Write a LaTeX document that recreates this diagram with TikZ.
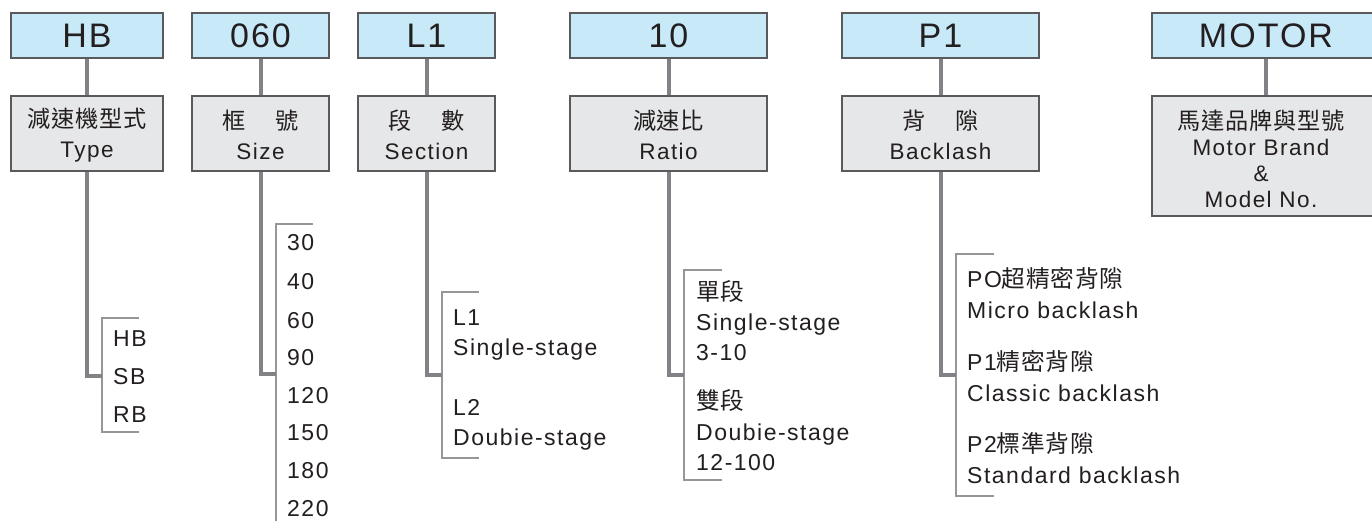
\documentclass[tikz,border=0pt]{standalone}
\usepackage{fontspec}
\setmainfont{Liberation Sans}
\newfontfamily\topf[LetterSpace=6]{Liberation Sans}
\newfontfamily\labf[LetterSpace=6.5]{Liberation Sans}
\newfontfamily\cjk[Scale=1.03,LetterSpace=3]{Noto Sans CJK TC}
\newcommand{\zh}[1]{{\cjk #1}}
\definecolor{topfill}{RGB}{200,234,248}
\definecolor{lowfill}{RGB}{230,231,232}
\definecolor{boxline}{RGB}{90,90,92}
\definecolor{stemc}{RGB}{128,130,133}
\definecolor{brkc}{RGB}{150,150,152}
\definecolor{ink}{RGB}{35,31,32}
\begin{document}
\begin{tikzpicture}[x=1pt,y=-1pt,
  topbox/.style={draw=boxline, line width=1.2pt, fill=topfill, minimum height=45pt, inner sep=0pt, font=\topf\fontsize{34}{34}\selectfont, text=ink},
  lowbox/.style={draw=boxline, line width=1.2pt, fill=lowfill, minimum height=75pt, inner sep=0pt},
  boxtext/.style={inner sep=0pt, align=center, font=\labf\fontsize{22.5}{30}\selectfont, text=ink},
  stem/.style={draw=stemc, line width=4pt},
  brk/.style={draw=brkc, line width=1.8pt},
  lab/.style={anchor=base west, inner sep=0pt, font=\labf\fontsize{23}{23}\selectfont, text=ink}]
\clip (0,0) rectangle (1372,521);
\fill[white] (0,0) rectangle (1372,521);
% top boxes
\node[topbox, minimum width=152pt] (t1) at (87,35.5) {HB};
\node[topbox, minimum width=137pt] (t2) at (260.5,35.5) {060};
\node[topbox, minimum width=137pt] (t3) at (426.5,35.5) {L1};
\node[topbox, minimum width=197pt] (t4) at (668.5,35.5) {10};
\node[topbox, minimum width=197pt] (t5) at (940.5,35.5) {P1};
\node[topbox, minimum width=228pt] (t6) at (1266,35.5) {MOTOR};
% lower boxes
\node[lowbox, minimum width=152pt] (b1) at (87,133.5) {};
\node[lowbox, minimum width=137pt] (b2) at (260.5,133.5) {};
\node[lowbox, minimum width=137pt] (b3) at (426.5,133.5) {};
\node[lowbox, minimum width=197pt] (b4) at (668.5,133.5) {};
\node[lowbox, minimum width=197pt] (b5) at (940.5,133.5) {};
\node[lowbox, minimum width=228pt, minimum height=120pt] (b6) at (1266,156) {};
\node[boxtext] (b1t) at (87,135) {\zh{減速機型式}\\Type};
\node[boxtext] (b2t) at (260.5,135) {\zh{框\hspace{1.3em}號}\\Size};
\node[boxtext] (b3t) at (426.5,135) {\zh{段\hspace{1.3em}數}\\Section};
\node[boxtext] (b4t) at (668.5,135) {\zh{減速比}\\Ratio};
\node[boxtext] (b5t) at (940.5,135) {\zh{背\hspace{1.3em}隙}\\Backlash};
\node[boxtext, font=\labf\fontsize{22.5}{26}\selectfont] (b6t) at (1261,159) {\zh{馬達品牌與型號}\\Motor Brand\\\&\\Model No.};
% stems top to lower
\foreach \i in {1,...,6} \draw[stem] (t\i.south) -- (b\i.north);
% bracket coordinates
\coordinate (k1) at (102,376); \coordinate (k1a) at (139,318); \coordinate (k1b) at (139,432);
\coordinate (k2) at (276,374); \coordinate (k2a) at (313,224); \coordinate (k2b) at (276,530);
\coordinate (k3) at (442,375); \coordinate (k3a) at (479,292); \coordinate (k3b) at (479,458);
\coordinate (k4) at (684,375); \coordinate (k4a) at (722,270); \coordinate (k4b) at (722,480);
\coordinate (k5) at (956,375); \coordinate (k5a) at (994,254); \coordinate (k5b) at (994,496);
% brackets
\draw[brk] (k1a) -| (k1) |- (k1b);
\draw[brk] (k2a) -| (k2) -- (k2b);
\draw[brk] (k3a) -| (k3) |- (k3b);
\draw[brk] (k4a) -| (k4) |- (k4b);
\draw[brk] (k5a) -| (k5) |- (k5b);
% stems lower to brackets
\foreach \i in {1,...,5} \draw[stem] (b\i.south) |- (k\i);
% labels: HB group
\node[lab] (l1a) at (113,346) {HB};
\node[lab] (l1b) at (113,384) {SB};
\node[lab] (l1c) at (113,422) {RB};
% size group
\node[lab] (l2a) at (287,251) {30};
\node[lab] (l2b) at (287,289) {40};
\node[lab] (l2c) at (287,328) {60};
\node[lab] (l2d) at (287,365) {90};
\node[lab] (l2e) at (287,403) {120};
\node[lab] (l2f) at (287,440) {150};
\node[lab] (l2g) at (287,478) {180};
\node[lab] (l2h) at (287,516) {220};
% section group
\node[lab] (l3a) at (453,325) {L1};
\node[lab] (l3b) at (453,355) {Single-stage};
\node[lab] (l3c) at (453,415) {L2};
\node[lab] (l3d) at (453,445) {Doubie-stage};
% ratio group
\node[lab] (l4a) at (696,300) {\zh{單段}};
\node[lab] (l4b) at (696,330) {Single-stage};
\node[lab] (l4c) at (696,360) {3-10};
\node[lab] (l4d) at (696,409) {\zh{雙段}};
\node[lab] (l4e) at (696,440) {Doubie-stage};
\node[lab] (l4f) at (696,470) {12-100};
% backlash group
\node[lab] (l5a) at (967,287) {PO\zh{超精密背隙}};
\node[lab] (l5b) at (967,318) {Micro backlash};
\node[lab] (l5c) at (967,370) {P1\zh{精密背隙}};
\node[lab] (l5d) at (967,401) {Classic backlash};
\node[lab] (l5e) at (967,452) {P2\zh{標準背隙}};
\node[lab] (l5f) at (967,483) {Standard backlash};
\end{tikzpicture}
\end{document}
